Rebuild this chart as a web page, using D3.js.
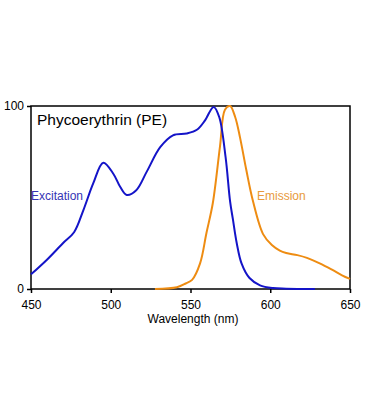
<!DOCTYPE html>
<html>
<head>
<meta charset="utf-8">
<script src="https://cdn.jsdelivr.net/npm/d3@7"></script>
<style>
  body { margin: 0; background: #fff; }
  svg { font-family: "Liberation Sans", Arial, sans-serif; }
</style>
</head>
<body>
<svg id="chart" width="369" height="420"></svg>
<script>
// wavelength (nm) / relative intensity
const excitationWl = [450, 460, 470, 477, 482.8, 489, 495.3, 501.6, 505.8, 510, 516, 522.5, 531, 539, 547.6, 554, 559, 564.5, 568, 572, 574.8, 576.6, 579, 582, 587, 593.6, 601.7, 610, 628]
const excitationVal = [8, 16, 25, 31, 43, 57.7, 69, 63, 56, 51.4, 54, 64, 77.5, 84, 85, 87, 92, 99.5, 94, 72, 48, 38, 25, 14, 6, 2, 0.5, 0.2, 0]
const emissionWl = [527.7, 541.5, 547, 551, 556, 560, 564, 568.5, 571.6, 574.8, 578, 581, 585, 589, 595.5, 601, 606, 610, 617, 623, 631, 639, 645, 650]
const emissionVal = [0, 1, 3, 5, 14, 30.6, 47, 78, 98, 100, 94, 83, 65, 48.6, 30, 24, 21, 19.7, 18.5, 17, 14, 10.4, 7.5, 5.5]
const xTicks = [450, 500, 550, 600, 650]
const yTicks = [0, 100]

const svg = d3.select('#chart')
const x = d3.scaleLinear().domain([450, 650]).range([31, 350])
const y = d3.scaleLinear().domain([0, 100]).range([289, 106])

// frame
svg.append('rect').attr('x', 31).attr('y', 106).attr('width', 319).attr('height', 183)
  .attr('fill', 'none').attr('stroke', '#000').attr('stroke-width', 1.5)

let xAxis = svg.append('g').attr('transform', 'translate(0,289)')
  .call(d3.axisBottom(x).tickValues(xTicks).tickSize(4).tickFormat(d3.format('d')))
xAxis.select('.domain').remove()
xAxis.selectAll('line').attr('stroke', '#000').attr('stroke-width', 1.5)
xAxis.selectAll('text').attr('font-size', 12).attr('fill', '#000').attr('dy', '1.05em')

let yAxis = svg.append('g').attr('transform', 'translate(31,0)')
  .call(d3.axisLeft(y).tickValues(yTicks).tickSize(4).tickPadding(3))
yAxis.select('.domain').remove()
yAxis.selectAll('line').attr('stroke', '#000').attr('stroke-width', 1.5)
yAxis.selectAll('text').attr('font-size', 12).attr('fill', '#000')

svg.append('text').attr('x', 193).attr('y', 323).attr('text-anchor', 'middle')
  .attr('font-size', 12).text('Wavelength (nm)')

const line = d3.line().x(d => x(d[0])).y(d => y(d[1])).curve(d3.curveCatmullRom.alpha(0.5))

svg.append('path').datum(d3.zip(emissionWl, emissionVal))
  .attr('d', line).attr('fill', 'none').attr('stroke', '#ee8c12').attr('stroke-width', 2)
svg.append('path').datum(d3.zip(excitationWl, excitationVal))
  .attr('d', line).attr('fill', 'none').attr('stroke', '#1414c8').attr('stroke-width', 2)

svg.append('text').attr('x', 37).attr('y', 125).attr('font-size', 15.5).text('Phycoerythrin (PE)')
svg.append('text').attr('x', 31).attr('y', 200).attr('font-size', 12).attr('fill', '#3434b4').text('Excitation')
svg.append('text').attr('x', 257).attr('y', 200).attr('font-size', 12).attr('fill', '#e89a3c').text('Emission')
</script>
</body>
</html>
